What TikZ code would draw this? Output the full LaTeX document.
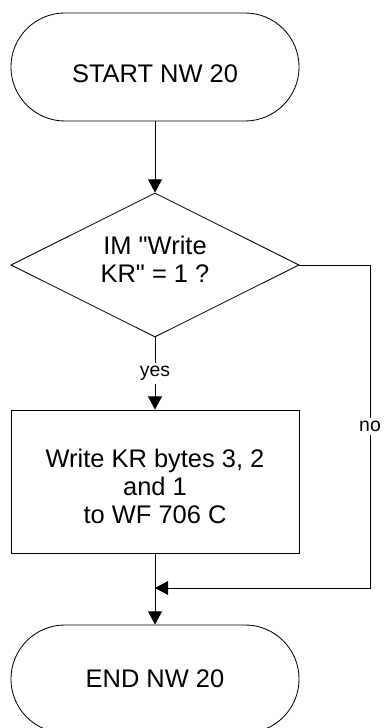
\documentclass[tikz,border=0pt]{standalone}
\usepackage{fontspec}
\setmainfont{Liberation Sans}[Ligatures=TeXOff]
\usetikzlibrary{shapes.geometric,arrows.meta}

\newcommand{\flowfont}{\fontsize{18.1}{19.7}\selectfont}
\newcommand{\answerfont}{\fontsize{13.8}{16}\selectfont}
\tikzset{
  flowline/.style={line width=0.6pt},
  terminal/.style={draw,flowline,rectangle,rounded corners=1.35cm,minimum width=7.2cm,minimum height=2.7cm,inner sep=0pt,font=\flowfont},
  decision/.style={draw,flowline,diamond,aspect=2,minimum width=7.2cm,minimum height=3.6cm,inner sep=0pt,align=center,font=\flowfont},
  process/.style={draw,flowline,rectangle,minimum width=7.2cm,minimum height=3.575cm,inner sep=0pt,align=center,font=\flowfont},
  answer/.style={fill=white,inner sep=2.5pt,font=\answerfont},
}

\begin{document}
\begin{tikzpicture}[x=0.025cm,y=0.025cm,>={Triangle[length=0.33cm,width=0.35cm]},flowline]
  \useasboundingbox (0,0) rectangle (384,728);   % page = 384 x 728 px
  \node[terminal,text height=22.3pt,text depth=0pt] (start) at (155,661) {START NW 20};
  \node[decision,text depth=8.5pt] (test) at (155,463) {IM "Write\\KR" = 1 ?};
  \node[process,text height=59.5pt,text depth=0pt] (write) at (155,246.5) {Write KR bytes 3, 2\\and 1\\to WF 706 C};
  \node[terminal] (stop) at (155,49) {END NW 20};
  \coordinate (merge) at (155,140);              % where the no branch rejoins
  \coordinate (nobend) at (370,140);
  \draw[->] (start) -- (test);
  \draw[->] (test) -- node[answer] {yes} (write);
  \draw[->] (write) -- (stop);
  \draw[->] (test.east) -| node[answer,pos=0.75] {no} (nobend) -- (merge);
\end{tikzpicture}
\end{document}
